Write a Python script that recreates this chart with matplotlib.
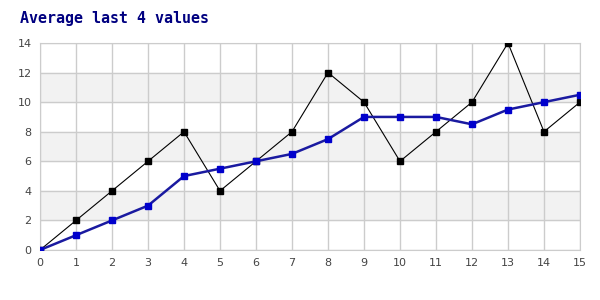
import matplotlib.pyplot as plt
import numpy as np

# data
x = list(range(16))
values = [0, 2, 4, 6, 8, 4, 6, 8, 12, 10, 6, 8, 10, 14, 8, 10]
avg4 = [0, 1, 2, 3, 5, 5.5, 6, 6.5, 7.5, 9, 9, 9, 8.5, 9.5, 10, 10.5]
yticks = [0, 2, 4, 6, 8, 10, 12, 14]

fig = plt.figure(figsize=(6, 3), dpi=100)
ax = fig.add_axes([40/600, 50/300, 540/600, 207/300])

# alternating bands
for lo in [2, 6, 10]:
    ax.axhspan(lo, lo + 2, color='#f2f2f2', zorder=0)

ax.plot(x, values, color='black', lw=0.8, marker='s', ms=3.8, zorder=3)
ax.plot(x, avg4, color='#1a1aa0', lw=1.8, marker='s', ms=3.8,
        mfc='#0000cc', mec='#0000cc', zorder=4)

ax.set_xlim(0, 15)
ax.set_ylim(0, 14)
ax.set_xticks(x)
ax.set_yticks(yticks)
ax.grid(True, color='#cccccc', lw=1, zorder=1)
ax.set_axisbelow(True)
for s in ax.spines.values():
    s.set_color('#cccccc')
ax.tick_params(length=0, labelsize=8, labelcolor='#444444', pad=6)

fig.text(20/600, 1 - 18/300, 'Average last 4 values', family='DejaVu Sans Mono',
         weight='bold', fontsize=10.8, color='#000080', va='center')

fig.savefig('out.png', dpi=100)
